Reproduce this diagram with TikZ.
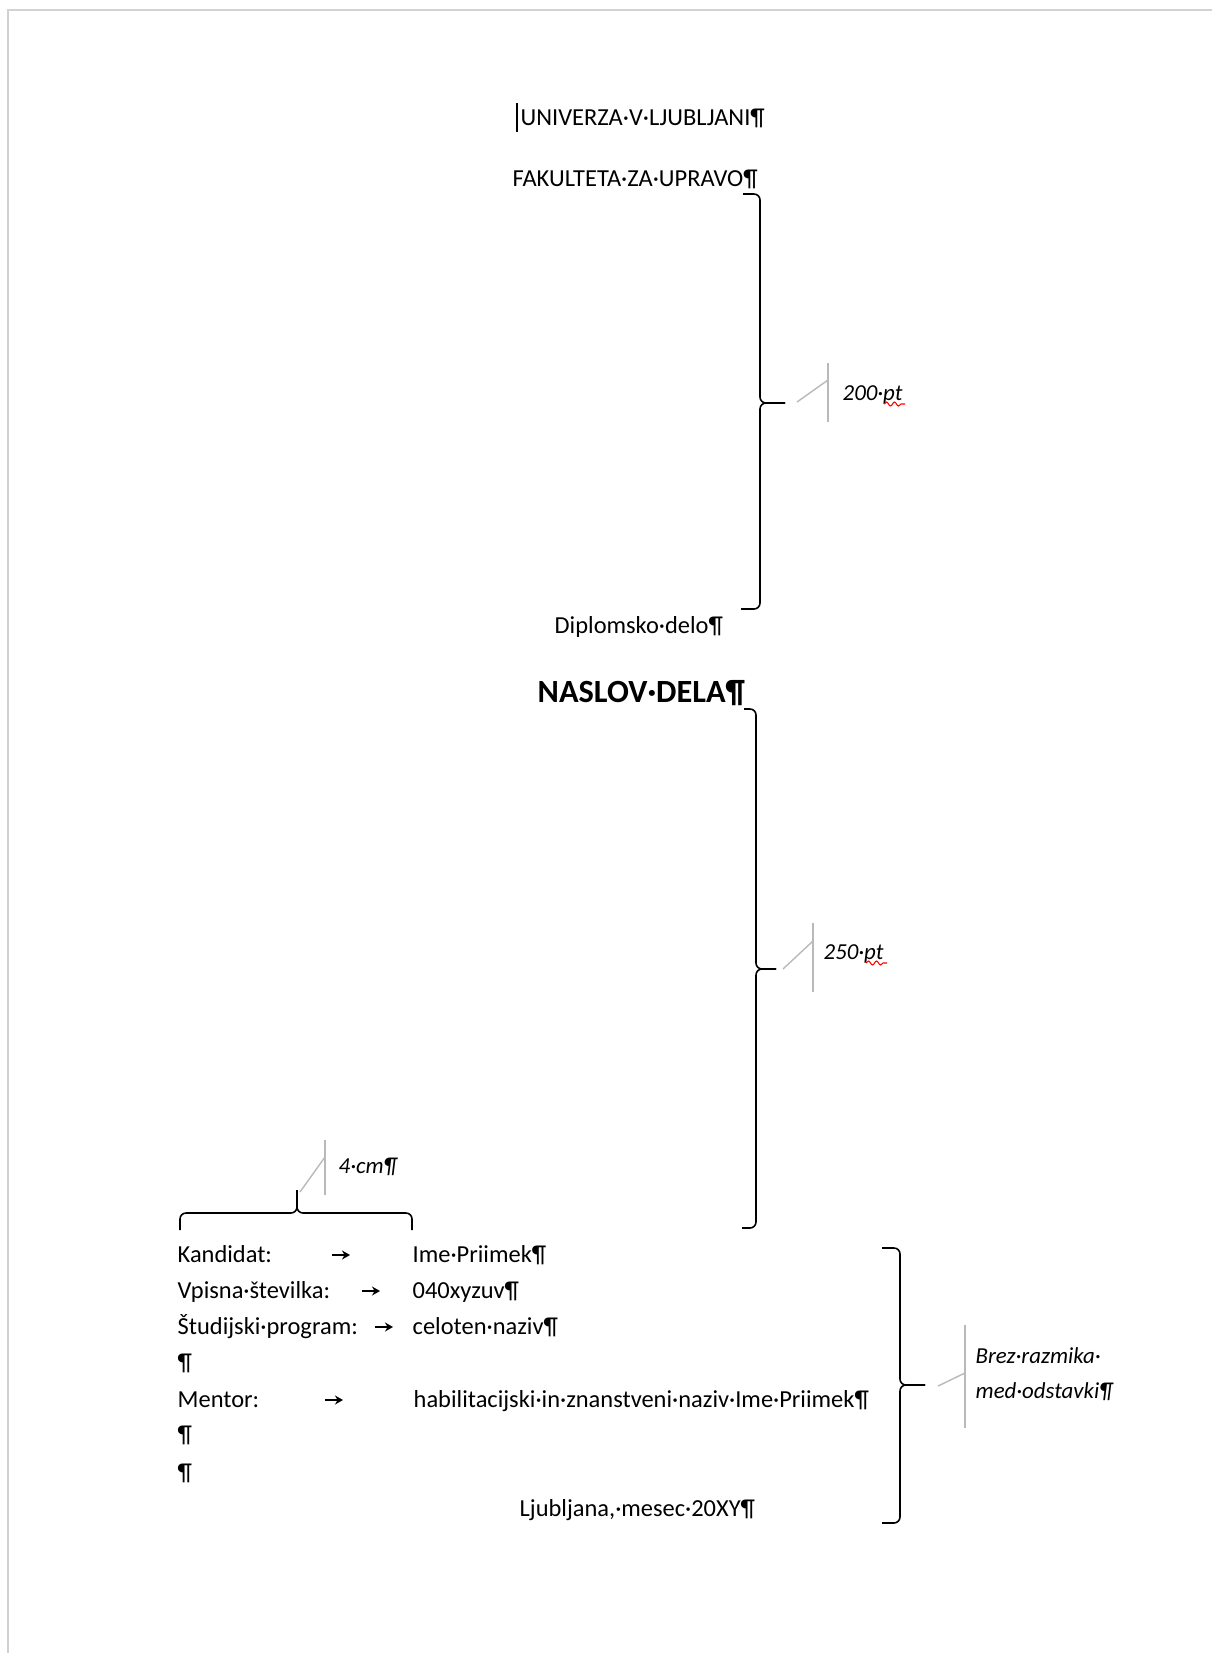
\documentclass[tikz,border=0pt]{standalone}
\usepackage{fontspec}
\setmainfont{Carlito}
\usepackage{tikz}
\usetikzlibrary{calc, arrows.meta, decorations.pathmorphing}

\tikzset{
    besedilo/.style={anchor=base west, inner sep=0pt, font=\fontsize{6.95}{8}\selectfont},
    naslov/.style={anchor=base west, inner sep=0pt, font=\fontsize{9.2}{10}\selectfont\bfseries},
    opomba/.style={anchor=base west, inner sep=0pt, font=\fontsize{6.5}{7}\selectfont\itshape},
    klamra/.style={draw=black, line width=0.45pt, rounded corners=0.6mm},
    oblacek/.style={draw=gray!55, line width=0.4pt},
    tabulator/.style={-{Stealth[length=0.8mm, width=0.9mm]}, line width=0.5pt},
    vijuga/.style={draw=red, line width=0.3pt, decorate,
        decoration={snake, amplitude=0.2mm, segment length=0.8mm}}
}

\begin{document}
\begin{tikzpicture}[x=0.01cm, y=-0.01cm]

    \useasboundingbox (0,0) rectangle (1212,1653);

    % rob strani
    \draw[draw=gray!35, line width=0.6pt] (8,1653) -- (8,10) -- (1212,10);

    % =================================================================
    % GLAVA: UNIVERZA, FAKULTETA
    % =================================================================
    \draw[line width=0.3pt] (517,103) -- (517,132); % kazalec
    \node[besedilo] (univerza) at (520,125) {UNIVERZA·V·LJUBLJANI¶};
    \node[besedilo] (fakulteta) at (512,186) {FAKULTETA·ZA·UPRAVO¶};

    % klamra 200 pt
    \coordinate (konica1) at (785,403);
    \draw[klamra] (743,194) -- (760,194) -- (760,403) -- (konica1);
    \draw[klamra] (konica1) -- (760,403) -- (760,609) -- (741,609);
    \coordinate (crta1) at (828,380);
    \draw[oblacek] ($(konica1)+(12,-1)$) -- (crta1);
    \draw[oblacek] (828,363) -- (828,422);
    \node[opomba] (opomba1) at (842,400) {200·pt};
    \draw[vijuga] (884,404) -- (905,404);

    % =================================================================
    % DIPLOMSKO DELO, NASLOV
    % =================================================================
    \node[besedilo] (diplomsko) at (554,633) {Diplomsko·delo¶};
    \node[naslov] (naslovdela) at (537,702) {NASLOV·DELA¶};

    % klamra 250 pt
    \coordinate (konica2) at (776,969);
    \draw[klamra] (744,709) -- (756,709) -- (756,969) -- (konica2);
    \draw[klamra] (konica2) -- (756,969) -- (756,1228) -- (742,1228);
    \coordinate (crta2) at (813,941);
    \draw[oblacek] ($(konica2)+(7,0)$) -- (crta2);
    \draw[oblacek] (813,923) -- (813,992);
    \node[opomba] (opomba2) at (823,959) {250·pt};
    \draw[vijuga] (866,963) -- (887,963);

    % =================================================================
    % PODATKI O KANDIDATU
    % =================================================================
    % klamra 4 cm
    \coordinate (konica3) at (297,1190);
    \draw[klamra] (180,1230) -- (180,1213) -- (297,1213) -- (konica3);
    \draw[klamra] (konica3) -- (297,1213) -- (412,1213) -- (412,1230);
    \coordinate (crta3) at (325,1157);
    \draw[oblacek] ($(konica3)+(3,2)$) -- (crta3);
    \draw[oblacek] (325,1140) -- (325,1195);
    \node[opomba] (opomba3) at (338,1173) {4·cm¶};

    \node[besedilo] (kandidat) at (177,1262) {Kandidat:};
    \node[besedilo] (ime) at (412,1262) {Ime·Priimek¶};
    \draw[tabulator] (332,1255) -- (350,1255);

    \node[besedilo] (vpisna) at (177,1298) {Vpisna·številka:};
    \node[besedilo] (stevilka) at (412,1298) {040xyzuv¶};
    \draw[tabulator] (362,1291) -- (380,1291);

    \node[besedilo] (program) at (177,1334) {Študijski·program:};
    \node[besedilo] (naziv) at (412,1334) {celoten·naziv¶};
    \draw[tabulator] (375,1327) -- (393,1327);

    \node[besedilo] (prazna1) at (177,1370) {¶};

    \node[besedilo] (mentor) at (177,1407) {Mentor:};
    \node[besedilo] (mentorime) at (413,1407) {habilitacijski·in·znanstveni·naziv·Ime·Priimek¶};
    \draw[tabulator] (325,1400) -- (343,1400);

    \node[besedilo] (prazna2) at (177,1442) {¶};
    \node[besedilo] (prazna3) at (177,1480) {¶};

    \node[besedilo] (kraj) at (519,1516) {Ljubljana,·mesec·20XY¶};

    % klamra brez razmika
    \coordinate (konica4) at (925,1385);
    \draw[klamra] (882,1248) -- (900,1248) -- (900,1385) -- (konica4);
    \draw[klamra] (konica4) -- (900,1385) -- (900,1523) -- (882,1523);
    \coordinate (crta4) at (965,1373);
    \draw[oblacek] ($(konica4)+(13,1)$) -- (crta4);
    \draw[oblacek] (965,1325) -- (965,1428);
    \node[opomba] (opomba4) at (975,1363) {Brez·razmika·};
    \node[opomba] (opomba5) at (975,1398) {med·odstavki¶};

\end{tikzpicture}
\end{document}
